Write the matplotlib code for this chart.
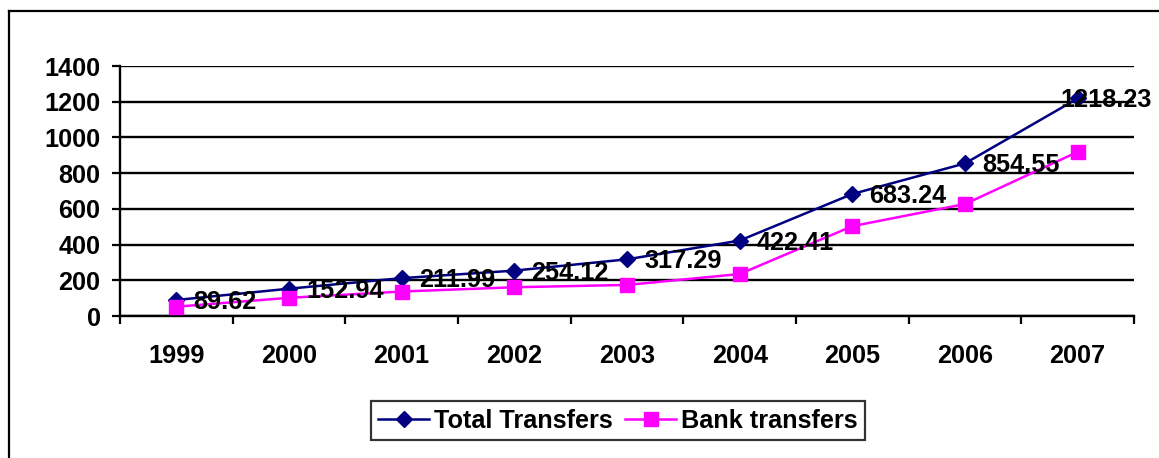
import matplotlib.pyplot as plt
from matplotlib.lines import Line2D

plt.rcParams['font.family'] = ['Liberation Sans', 'DejaVu Sans']
plt.rcParams['font.weight'] = 'bold'

# data
years = ['1999', '2000', '2001', '2002', '2003', '2004', '2005', '2006', '2007']
total_transfers = [89.62, 152.94, 211.99, 254.12, 317.29, 422.41, 683.24, 854.55, 1218.23]
bank_transfers = [52, 102, 137, 161, 174, 235, 503, 627, 919]

fs = 18.2

fig = plt.figure(figsize=(11.59, 4.58), dpi=100)
ax = fig.add_axes([120 / 1159, 1 - 316 / 458, (1134 - 120) / 1159, (316 - 66) / 458])

x = list(range(len(years)))
ax.plot(x, total_transfers, color='#000080', lw=1.8, marker='D', ms=8.5,
        label='Total Transfers', zorder=3)
ax.plot(x, bank_transfers, color='#FF00FF', lw=1.8, marker='s', ms=10,
        label='Bank transfers', zorder=4)

# data labels to the right of the total points
for i, v in enumerate(total_transfers):
    dx = 17 if i < len(years) - 1 else -17
    ax.annotate(f'{v:.2f}', (i, v), xytext=(dx, -2), textcoords='offset pixels',
                ha='left', va='center', fontsize=fs, fontweight='bold', zorder=6)

ax.set_xlim(-0.5, len(years) - 0.5)
ax.set_ylim(0, 1400)
ax.set_yticks(range(0, 1401, 200))
ax.set_xticks([i - 0.5 for i in range(len(years) + 1)], minor=False)
ax.set_xticklabels([])
ax.set_xticks(x, minor=True)
ax.set_xticklabels(years, minor=True)
ax.tick_params(axis='x', which='minor', length=0, pad=20, labelsize=fs)
ax.tick_params(axis='x', which='major', length=6, width=1.6, direction='out')
ax.tick_params(axis='y', length=6, width=1.6, direction='out', pad=8, labelsize=fs)

ax.yaxis.grid(True, color='black', lw=1.7)
ax.set_axisbelow(True)
for side in ['top', 'right']:
    ax.spines[side].set_visible(False)
ax.spines['left'].set_linewidth(1.7)
ax.spines['bottom'].set_linewidth(1.7)

leg = fig.legend(loc='center', bbox_to_anchor=(618 / 1159, 1 - 420.5 / 458), ncol=2,
                 fontsize=fs, frameon=True, fancybox=False, edgecolor='black',
                 handlelength=2.0, handletextpad=0.2, columnspacing=0.5,
                 borderpad=0.3, borderaxespad=0)
leg.get_frame().set_linewidth(1.6)

# outer chart frame (left and top edges visible)
fig.add_artist(Line2D([9 / 1159, 9 / 1159], [0, 1 - 11 / 458], color='black', lw=1.6))
fig.add_artist(Line2D([9 / 1159, 1], [1 - 11 / 458, 1 - 11 / 458], color='black', lw=1.6))

fig.savefig('out.png', dpi=100)
